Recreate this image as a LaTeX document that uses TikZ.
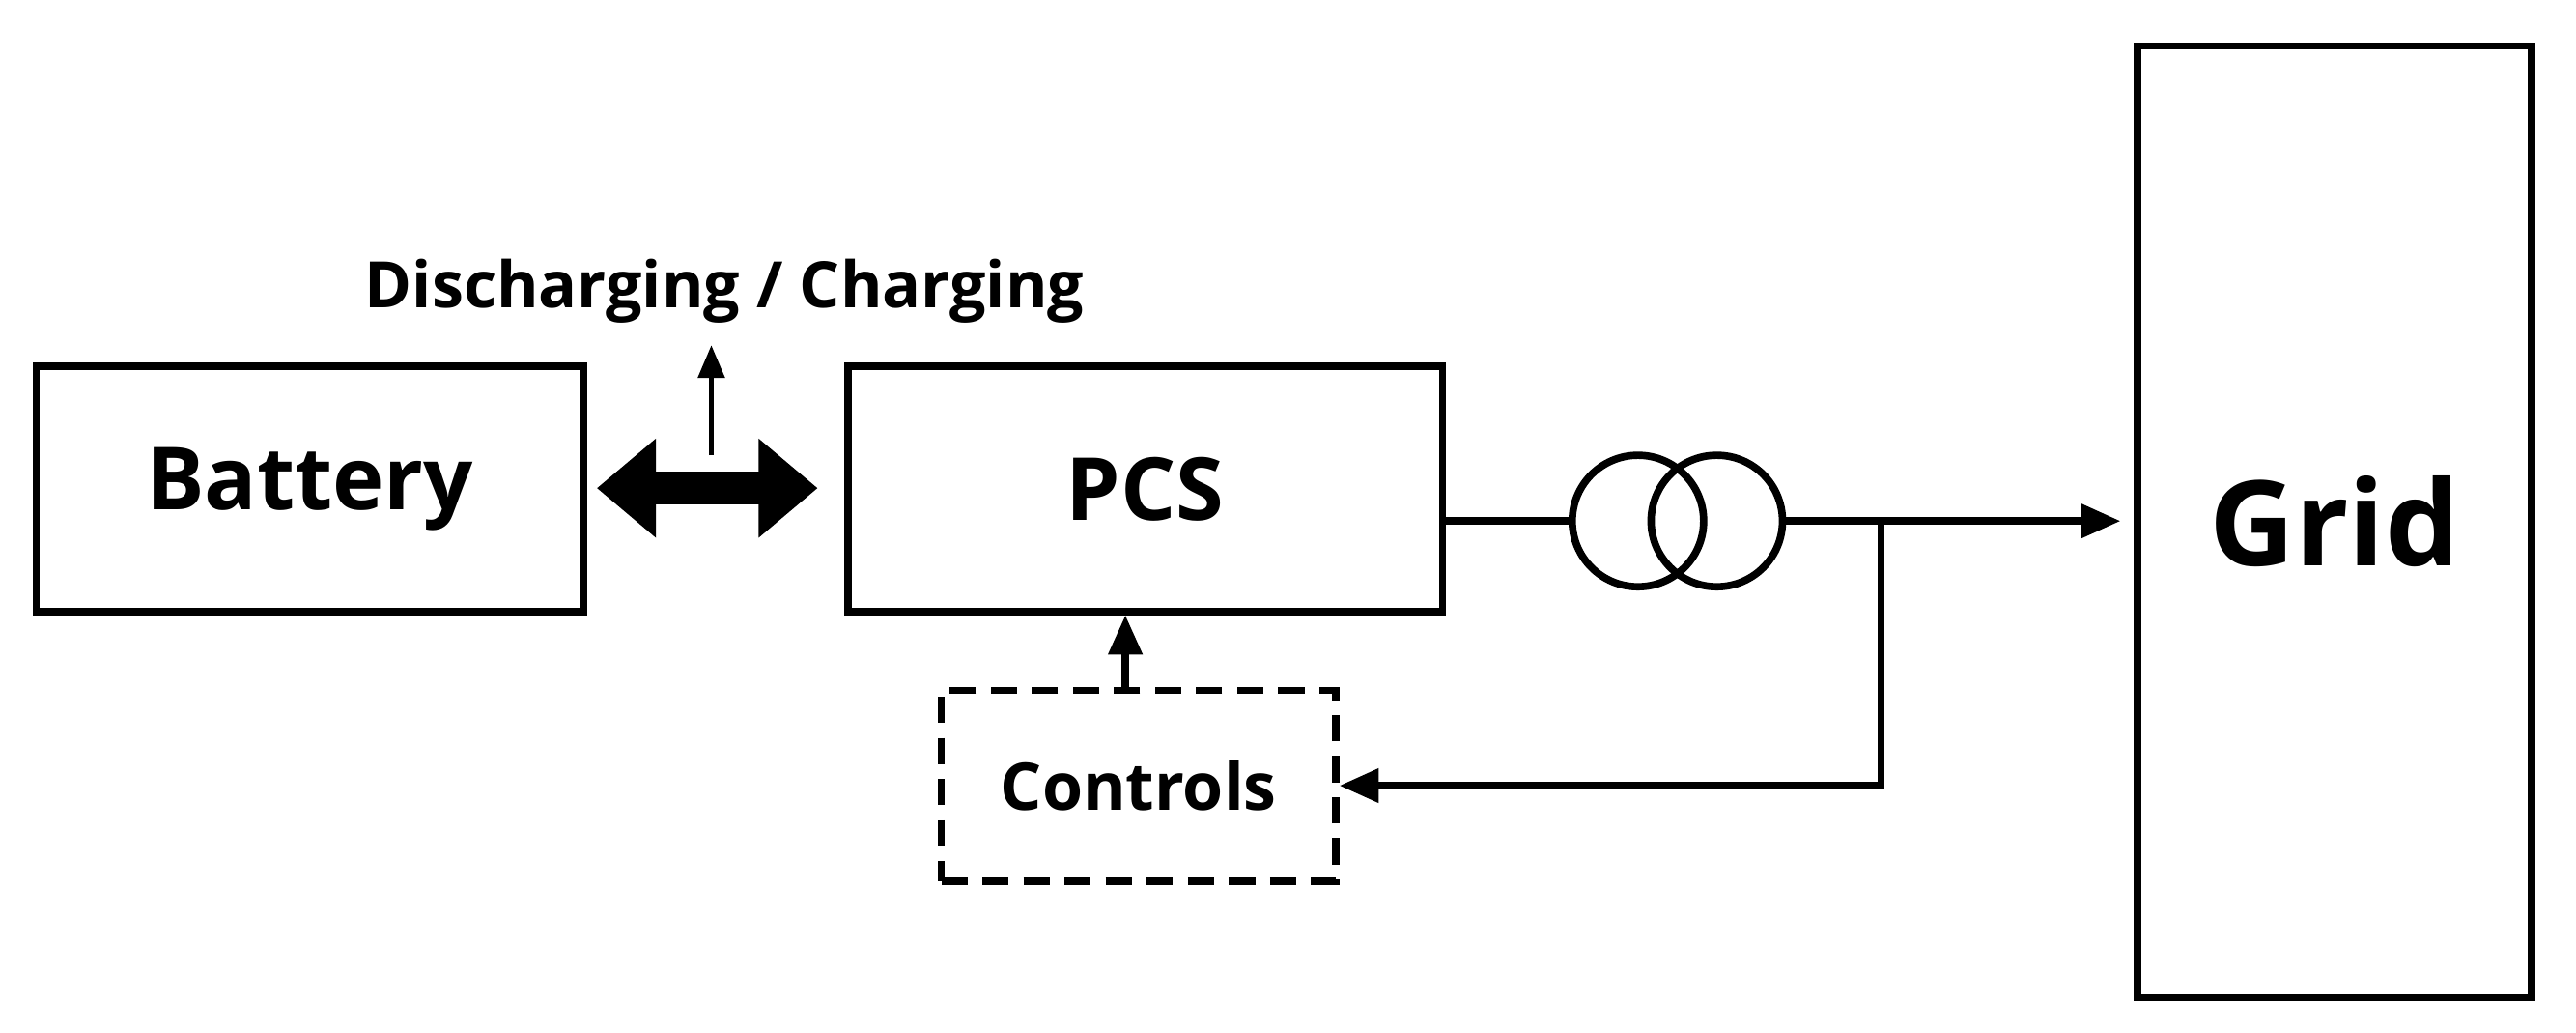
\documentclass[tikz,border=0pt]{standalone}
\usepackage{fontspec}
\setmainfont{Open Sans}[BoldFont={Open Sans Bold}]
\usetikzlibrary{arrows.meta}
\begin{document}
\begin{tikzpicture}[x=1pt,y=-1pt,
 box/.style={draw,line width=4.5pt,inner sep=0pt},
 conn/.style={line width=4.5pt,-{Triangle[length=24pt,width=20pt]}},
 plain/.style={line width=4.5pt}]
\useasboundingbox (0,0) rectangle (1568,628);
\node[box,minimum width=333pt,minimum height=149pt,font=\fontsize{53}{56}\selectfont\bfseries] (bat) at (188.5,297.5) {Battery};
\node[box,minimum width=362pt,minimum height=149pt,font=\fontsize{53}{56}\selectfont\bfseries] (pcs) at (697,297.5) {PCS};
\node[box,minimum width=240pt,minimum height=579pt,font=\fontsize{72}{76}\selectfont\bfseries] (grid) at (1421,317.5) {Grid};
\node[box,dashed,dash pattern=on 16pt off 9pt,minimum width=240pt,minimum height=116pt,font=\fontsize{40}{44}\selectfont\bfseries] (ctl) at (693,478) {Controls};
\draw[line width=20pt,{Triangle[length=36pt,width=58pt]}-{Triangle[length=36pt,width=58pt]},shorten <=6pt,shorten >=16pt] (bat.east|-0,297) -- (pcs.west|-0,297);
\coordinate (da) at (433,277);
\node[font=\fontsize{39}{42}\selectfont\bfseries] (lbl) at (441,177) {Discharging / Charging};
\draw[line width=3pt,-{Triangle[length=20pt,width=16pt]}] (da) -- (433,210);
\node[draw,circle,line width=4.5pt,minimum size=80pt,inner sep=0pt] (t1) at (997,317) {};
\node[draw,circle,line width=4.5pt,minimum size=80pt,inner sep=0pt] (t2) at (1045,317) {};
\draw[plain] (pcs.east|-t1) -- (t1.west);
\coordinate (j) at (1145,317);
\draw[conn,shorten >=8pt] (t2.east) -- (grid.west|-t2);
\draw[conn] (j) |- (ctl.east);
\draw[conn] (ctl.north-|685,0) -- (pcs.south-|685,0);
\end{tikzpicture}
\end{document}
